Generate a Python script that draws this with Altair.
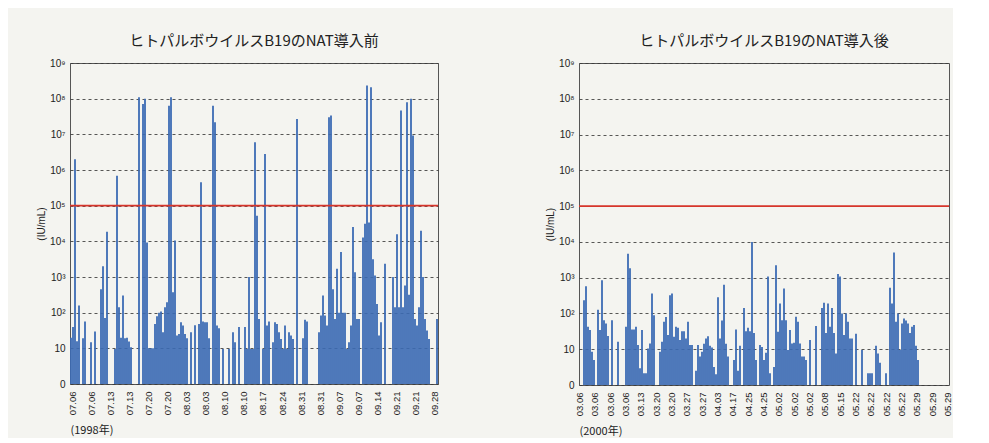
import altair as alt
import numpy as np
import pandas as pd

# ---------------- data (log10 of IU/mL; 0 = not detected) -------------
title_before = "ヒトパルボウイルスB19のNAT導入前"
title_after = "ヒトパルボウイルスB19のNAT導入後"
year_before = "(1998年)"
year_after = "(2000年)"
y_title = "(IU/mL)"
threshold_log10 = [5]

before_log10 = [
    1.3, 1.6, 6.3, 1.2, 2.2, 0, 1.28, 1.75, 0, 0,
    1.17, 0, 1.47, 0, 0, 2.66, 3.3, 1.85, 4.27, 0,
    0, 0, 0.98, 5.84, 2.15, 1.3, 2.48, 1.28, 1.3, 1.19,
    1.03, 0, 0, 0, 8.04, 0, 7.85, 8.0, 3.97, 1.0,
    1.0, 1.0, 1.68, 1.9, 2.0, 2.03, 1.45, 2.15, 2.29, 7.8,
    8.04, 2.57, 4.02, 1.36, 1.4, 1.73, 1.64, 1.4, 1.28, 0,
    1.45, 0, 1.65, 0, 1.68, 5.66, 1.75, 1.73, 1.73, 1.28,
    0, 7.8, 7.34, 1.64, 1.56, 0, 0.98, 0, 0, 0.98,
    0, 1.45, 1.17, 0, 1.6, 0, 0, 1.6, 0.98, 3.0,
    0.98, 0.98, 6.78, 4.72, 1.82, 0, 0.98, 6.45, 1.64, 1.75,
    0, 1.17, 1.73, 1.68, 1.45, 1.26, 0.98, 1.64, 0.98, 1.45,
    1.36, 1.26, 0, 7.43, 0, 0, 1.28, 1.8, 1.75, 0,
    0, 0, 0, 0, 1.45, 1.92, 2.48, 1.92, 1.64, 7.48,
    7.53, 2.66, 1.82, 3.23, 2.0, 3.7, 2.0, 2.0, 0.98, 1.17,
    1.64, 4.4, 3.13, 1.82, 1.82, 0, 4.11, 4.49, 8.37, 4.53,
    8.32, 3.5, 3.04, 2.24, 1.36, 1.73, 0, 3.37, 0, 0,
    0, 3.0, 2.15, 4.2, 2.15, 7.67, 2.15, 2.76, 7.9, 2.5,
    8.0, 6.97, 1.82, 1.64, 2.15, 4.3, 3.0, 1.82, 1.5, 1.26,
    0, 0, 0, 1.82,
]

after_log10 = [
    0, 0, 2.37, 2.76, 1.63, 1.54, 0.93, 0.7, 0, 2.1,
    1.54, 2.93, 1.81, 1.72, 1.37, 0, 1.81, 0, 0, 1.21,
    0, 0, 0, 1.63, 3.67, 3.26, 1.55, 1.55, 1.63, 1.12,
    0.47, 1.54, 0.33, 0.33, 1.02, 1.16, 2.56, 1.95, 0, 0,
    0.93, 1.21, 1.77, 1.9, 1.4, 2.51, 2.56, 1.35, 1.63, 1.6,
    1.26, 1.5, 1.5, 1.3, 1.77, 1.12, 1.12, 0, 0.4, 1.12,
    0.8, 0.93, 1.15, 1.3, 1.36, 1.1, 1.05, 0.5, 0.3, 2.45,
    1.3, 1.8, 2.8, 1.15, 0.8, 0, 0, 0.7, 1.55, 0.4,
    1.1, 0, 2.15, 1.5, 1.6, 1.5, 4.0, 1.45, 0.7, 0,
    1.12, 1.06, 0.7, 0.9, 3.03, 0.33, 0, 0.5, 3.35, 1.49,
    2.28, 1.81, 2.7, 1.81, 0.98, 1.54, 1.16, 1.18, 1.91, 1.77,
    1.16, 0.8, 0.8, 0.7, 0, 1.26, 0, 0, 1.65, 0,
    0, 2.15, 2.3, 1.45, 2.28, 1.63, 2.15, 1.45, 0.88, 3.1,
    3.03, 2.0, 1.4, 2.0, 1.77, 1.3, 1.3, 0, 1.43, 0,
    0, 0.98, 0, 0, 0.33, 0.33, 0.33, 0, 1.1, 0.88,
    0.62, 0, 0, 0.33, 0, 2.72, 2.28, 3.7, 1.77, 2.0,
    0.98, 1.72, 1.86, 1.8, 1.72, 1.45, 1.63, 1.68, 1.1, 0.7,
]

before_slots = 184   # sample positions on the x axis
after_slots = 185

before_ticks = ["07.06", "07.06", "07.13", "07.13", "07.20", "07.20", "08.03", "08.03",
                "08.10", "08.10", "08.17", "08.24", "08.31", "08.31", "09.07", "09.07",
                "09.14", "09.21", "09.21", "09.28"]
after_ticks = ["03.06", "03.06", "03.06", "03.06", "03.13", "03.20", "03.20", "03.27",
               "03.27", "04.03", "04.17", "04.25", "04.25", "05.02", "05.02", "05.02",
               "05.08", "05.15", "05.22", "05.22", "05.22", "05.22", "05.29", "05.29", "05.29"]

y_tick_labels = ["0", "10", "10²", "10³", "10⁴", "10⁵", "10⁶", "10⁷", "10⁸", "10⁹"]

FONT = "Liberation Sans, DejaVu Sans, sans-serif"
CJK = "Noto Sans CJK JP"
BAR = "#3c6bb4"


def panel(values, nslots, ticks, title, year, width, height, tick_start, tick_end):
    df = pd.DataFrame({"i": np.arange(len(values)), "v": values})
    df["x0"] = df["i"] + 0.05
    df["x1"] = df["i"] + 0.95
    df["base"] = 0.0
    tick_pos = [float(t) for t in np.linspace(tick_start, tick_end, len(ticks))]
    step = (tick_end - tick_start) / (len(ticks) - 1)
    arr = "[" + ",".join("'" + t + "'" for t in ticks) + "]"
    x_expr = f"{arr}[round((datum.value - {tick_start}) / {step})]"
    yarr = "[" + ",".join("'" + t + "'" for t in y_tick_labels) + "]"
    y_expr = f"{yarr}[round(datum.value)]"

    xscale = alt.Scale(domain=[0, nslots], nice=False, zero=False)
    yscale = alt.Scale(domain=[0, 9], nice=False)
    yaxis = alt.Axis(values=[0, 1, 2, 3, 4, 5, 6, 7, 8, 9], labelExpr=y_expr,
                     labelFontSize=10, labelFont=FONT, labelColor="#222",
                     labelPadding=5, ticks=False, domain=False,
                     labelOverlap=False,
                     grid=True, gridDash=[3, 3], gridColor="#3a3a3a",
                     gridWidth=1, gridOpacity=0.85,
                     title=y_title, titleFont=FONT, titleFontSize=10,
                     titleFontWeight="normal", titleColor="#222",
                     titlePadding=3)

    bars = alt.Chart(df).mark_bar(color=BAR).encode(
        x=alt.X("x0:Q", scale=xscale,
                axis=alt.Axis(values=tick_pos, labelExpr=x_expr, labelAngle=270,
                              labelFontSize=9.5, labelFont=FONT, labelColor="#222",
                              labelPadding=7, ticks=False, domain=False, grid=False,
                              labelOverlap=False,
                              title=year, titleAnchor="start", titleAlign="left",
                              titleFont=CJK, titleFontSize=11, titleFontWeight="normal",
                              titleColor="#222", titlePadding=10)),
        x2="x1:Q",
        y=alt.Y("v:Q", scale=yscale, stack=None, axis=yaxis),
        y2="base:Q",
    )
    rule = alt.Chart(pd.DataFrame({"t": threshold_log10})).mark_rule(
        color="#d6352b", strokeWidth=1.7
    ).encode(y=alt.Y("t:Q", scale=yscale, axis=yaxis))

    return alt.layer(bars, rule).properties(
        width=width, height=height,
        title=alt.TitleParams(title, font=CJK, fontSize=15, fontWeight="normal",
                              color="#222", offset=9),
    )


left = panel(before_log10, before_slots, before_ticks, title_before, year_before,
             368, 321, 1.0, 182.4)
right = panel(after_log10, after_slots, after_ticks, title_after, year_after,
              370, 322, 0.2, 184.2)

chart = alt.hconcat(left, right, spacing=105).properties(
    background="#f4f4f0",
    padding={"left": 28, "top": 25, "right": 0, "bottom": 0},
).configure_view(stroke="#555555", strokeWidth=1).configure_concat(spacing=105)

chart.save("out.html", embed_options={"renderer": "svg", "actions": False})
